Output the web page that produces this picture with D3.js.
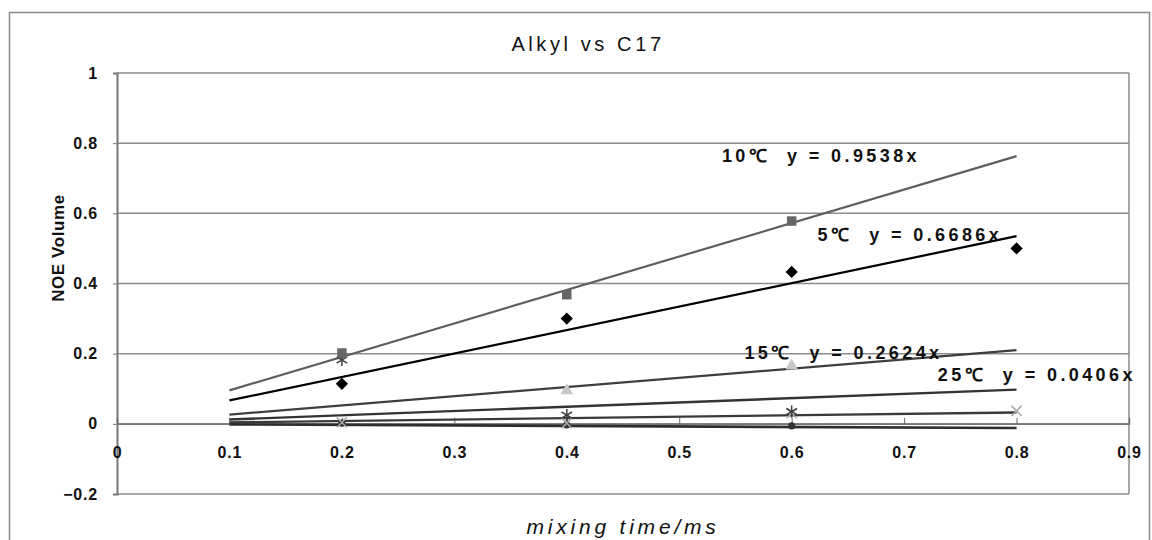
<!DOCTYPE html>
<html>
<head>
<meta charset="utf-8">
<script src="https://cdn.jsdelivr.net/npm/d3@7"></script>
<style>
  body { margin: 0; background: #fff; }
  svg { display: block; }
</style>
</head>
<body>
<div id="chart"></div>
<script>
// data
const xTicks = [0, 0.1, 0.2, 0.3, 0.4, 0.5, 0.6, 0.7, 0.8, 0.9];
const yTicks = [-0.2, 0, 0.2, 0.4, 0.6, 0.8, 1];

const series5 = [[0.2, 0.114], [0.4, 0.30], [0.6, 0.433], [0.8, 0.50]];
const series10 = [[0.2, 0.202], [0.4, 0.368], [0.6, 0.578]];
const series15 = [[0.4, 0.095], [0.6, 0.165]];
const seriesCross = [[0.2, 0.004], [0.4, 0.002], [0.6, 0.03], [0.8, 0.037]];
const seriesStar = [[0.2, 0.182], [0.4, 0.025], [0.6, 0.035]];
const seriesCircle = [[0.2, 0.002], [0.4, -0.003], [0.6, -0.006]];

// trendline slopes (y = a x), drawn from 0.1 to 0.8
const trendSlopes = [0.6686, 0.9538, 0.2624, 0.0406, 0.122, -0.015];
const trendRange = [0.1, 0.8];

const labels = [
  { text: '10℃  y = 0.9538x', x: 0.538, y: 0.745 },
  { text: '5℃  y = 0.6686x', x: 0.623, y: 0.52 },
  { text: '15℃  y = 0.2624x', x: 0.558, y: 0.185 },
  { text: '25℃  y = 0.0406x', x: 0.73, y: 0.123 }
];

const width = 1152, height = 540;
const svg = d3.select('#chart').append('svg')
  .attr('width', width)
  .attr('height', height);

// outer chart frame
svg.append('rect')
  .attr('x', 9.5).attr('y', 12.5)
  .attr('width', 1140).attr('height', 560)
  .attr('fill', 'none')
  .attr('stroke', '#8a8a8a')
  .attr('stroke-width', 1.5);

const x = d3.scaleLinear().domain([0, 0.9]).range([117, 1129]);
const y = d3.scaleLinear().domain([-0.2, 1]).range([494, 73]);

// gridlines
svg.append('g')
  .selectAll('line')
  .data(yTicks)
  .enter()
  .append('line')
  .attr('x1', x(0)).attr('x2', x(0.9))
  .attr('y1', d => y(d)).attr('y2', d => y(d))
  .attr('stroke', '#8c8c8c')
  .attr('stroke-width', 1.5);

// plot border right
svg.append('line')
  .attr('x1', x(0.9)).attr('x2', x(0.9))
  .attr('y1', y(1)).attr('y2', y(-0.2))
  .attr('stroke', '#8c8c8c')
  .attr('stroke-width', 1.5);

// y axis
const yAxis = d3.axisLeft(y).tickValues(yTicks).tickSize(4)
  .tickFormat(d => d === 0 ? '0' : d3.format('.1f')(d).replace('-', '−').replace('1.0', '1'));
const gy = svg.append('g')
  .attr('transform', `translate(${x(0)},0)`)
  .call(yAxis);
gy.select('.domain').attr('stroke', '#777').attr('stroke-width', 2);
gy.selectAll('.tick line').attr('stroke', '#777');
gy.selectAll('.tick text')
  .attr('x', -19)
  .attr('font-family', 'Liberation Sans, Arial, sans-serif')
  .attr('font-weight', 'bold')
  .attr('font-size', 16)
  .attr('letter-spacing', 0.8)
  .attr('fill', '#111');

// x axis at y = 0
const xAxis = d3.axisTop(x).tickValues(xTicks).tickSize(6).tickFormat(d => d === 0 ? '0' : String(d));
const gx = svg.append('g')
  .attr('transform', `translate(0,${y(0)})`)
  .call(xAxis);
gx.select('.domain').attr('stroke', '#777').attr('stroke-width', 1.5);
gx.selectAll('.tick line').attr('stroke', '#666');
gx.selectAll('.tick text')
  .attr('y', 34)
  .attr('dy', 0)
  .attr('font-family', 'Liberation Sans, Arial, sans-serif')
  .attr('font-weight', 'bold')
  .attr('font-size', 16)
  .attr('letter-spacing', 0.8)
  .attr('fill', '#111');

// trendlines
const trendStyle = [
  { color: '#000', w: 2.2 },
  { color: '#5e5e5e', w: 2.2 },
  { color: '#3e3e3e', w: 2.2 },
  { color: '#3a3a3a', w: 2.4 },
  { color: '#333', w: 2.4 },
  { color: '#2e2e2e', w: 2.6 }
];
svg.append('g')
  .selectAll('line')
  .data(trendSlopes)
  .enter()
  .append('line')
  .attr('x1', x(trendRange[0]))
  .attr('x2', x(trendRange[1]))
  .attr('y1', d => y(d * trendRange[0]))
  .attr('y2', d => y(d * trendRange[1]))
  .attr('stroke', (d, i) => trendStyle[i].color)
  .attr('stroke-width', (d, i) => trendStyle[i].w);

// markers
function drawMarkers(data, symbolType, size, color, strokeOnly) {
  svg.append('g')
    .selectAll('path')
    .data(data)
    .enter()
    .append('path')
    .attr('transform', d => `translate(${x(d[0])},${y(d[1])})`)
    .attr('d', d3.symbol().type(symbolType).size(size))
    .attr('fill', strokeOnly ? 'none' : color)
    .attr('stroke', color)
    .attr('stroke-width', strokeOnly ? 1.5 : 0);
}

const asterisk = {
  draw(context, size) {
    const r = Math.sqrt(size) / 2;
    for (let k = 0; k < 3; k++) {
      const a = Math.PI / 2 + k * Math.PI / 3;
      context.moveTo(r * Math.cos(a), r * Math.sin(a));
      context.lineTo(-r * Math.cos(a), -r * Math.sin(a));
    }
  }
};
const cross = {
  draw(context, size) {
    const r = Math.sqrt(size) / 2;
    context.moveTo(-r, -r); context.lineTo(r, r);
    context.moveTo(-r, r); context.lineTo(r, -r);
  }
};
const diamond = {
  draw(context, size) {
    const r = Math.sqrt(size) / 2;
    context.moveTo(0, -r); context.lineTo(r, 0);
    context.lineTo(0, r); context.lineTo(-r, 0);
    context.closePath();
  }
};

drawMarkers(seriesCircle, d3.symbolCircle, 40, '#333', false);
drawMarkers(seriesCross, cross, 100, '#a8a8a8', true);
drawMarkers(seriesStar, asterisk, 150, '#404040', true);
drawMarkers(series15, d3.symbolTriangle, 70, '#c8c8c8', false);
drawMarkers(series10, d3.symbolSquare, 90, '#666', false);
drawMarkers(series5, diamond, 150, '#000', false);

// trendline labels
svg.append('g')
  .selectAll('text')
  .data(labels)
  .enter()
  .append('text')
  .attr('x', d => x(d.x))
  .attr('y', d => y(d.y))
  .attr('font-family', 'Liberation Sans, Arial, sans-serif')
  .attr('font-weight', 'bold')
  .attr('font-size', 18)
  .attr('letter-spacing', 3.4)
  .attr('fill', '#111')
  .attr('xml:space', 'preserve')
  .style('white-space', 'pre')
  .text(d => d.text);

// title
svg.append('text')
  .attr('x', 588)
  .attr('y', 51)
  .attr('text-anchor', 'middle')
  .attr('font-family', 'Liberation Sans, Arial, sans-serif')
  .attr('font-size', 20)
  .attr('letter-spacing', 3.6)
  .attr('fill', '#111')
  .text('Alkyl vs C17');

// axis titles
svg.append('text')
  .attr('transform', 'translate(64,248) rotate(-90)')
  .attr('text-anchor', 'middle')
  .attr('font-family', 'Liberation Sans, Arial, sans-serif')
  .attr('font-weight', 'bold')
  .attr('font-size', 17)
  .attr('letter-spacing', 0.6)
  .attr('fill', '#111')
  .text('NOE Volume');

svg.append('text')
  .attr('x', 623)
  .attr('y', 534)
  .attr('text-anchor', 'middle')
  .attr('font-family', 'Liberation Sans, Arial, sans-serif')
  .attr('font-style', 'italic')
  .attr('font-size', 21)
  .attr('letter-spacing', 3.8)
  .attr('fill', '#111')
  .text('mixing time/ms');
</script>
</body>
</html>
